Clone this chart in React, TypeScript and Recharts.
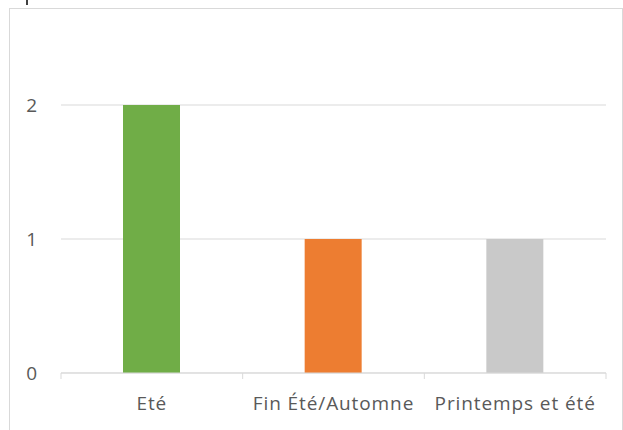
import { BarChart, Bar, XAxis, YAxis, CartesianGrid, Cell } from 'recharts';

const categories = ['Eté', 'Fin Été/Automne', 'Printemps et été'];
const counts = [2, 1, 1];
const barColors = ['#70AD47', '#ED7D31', '#C9C9C9'];
const yTicks = [0, 1, 2];

const data = categories.map((name, i) => ({ name, value: counts[i] }));

const font = '"Open Sans", Lato, sans-serif';

function CategoryTick(props: any) {
  const { x, y, payload, index } = props;
  const half = payload?.offset ?? 545 / 6;
  const top = y - 8;
  return (
    <g>
      <line x1={x - half} y1={top} x2={x - half} y2={top + 6} stroke="#D9D9D9" />
      {index === categories.length - 1 && (
        <line x1={x + half} y1={top} x2={x + half} y2={top + 6} stroke="#D9D9D9" />
      )}
      <text x={x} y={y + 29} textAnchor="middle" fill="#595959" fontSize={19} letterSpacing={0.9} fontFamily={font}>
        {payload.value}
      </text>
    </g>
  );
}

export default function App() {
  return (
    <div style={{ position: 'absolute', left: 0, top: 0, width: 623, height: 430, background: '#fff', overflow: 'hidden' }}>
      <div style={{ position: 'absolute', left: 9, top: 8, width: 612, height: 440, border: '1px solid #D9D9D9' }} />
      <div style={{ position: 'absolute', left: 26, top: 0, width: 2, height: 5, background: '#404040' }} />
      <BarChart
        width={623}
        height={430}
        data={data}
        margin={{ top: 105, right: 17, left: 0, bottom: 0 }}
        style={{ position: 'absolute', left: 0, top: 0 }}
      >
        <CartesianGrid vertical={false} stroke="#D9D9D9" />
        <XAxis
          dataKey="name"
          height={57}
          axisLine={{ stroke: '#D9D9D9' }}
          tickLine={false}
          interval={0}
          tick={<CategoryTick />}
        />
        <YAxis
          width={61}
          domain={[0, 2]}
          ticks={yTicks}
          axisLine={false}
          tickLine={false}
          tickMargin={18}
          tick={{ fill: '#595959', fontSize: 19, fontFamily: font }}
        />
        <Bar dataKey="value" barSize={57} isAnimationActive={false}>
          {data.map((d, i) => (
            <Cell key={d.name} fill={barColors[i]} />
          ))}
        </Bar>
      </BarChart>
    </div>
  );
}
